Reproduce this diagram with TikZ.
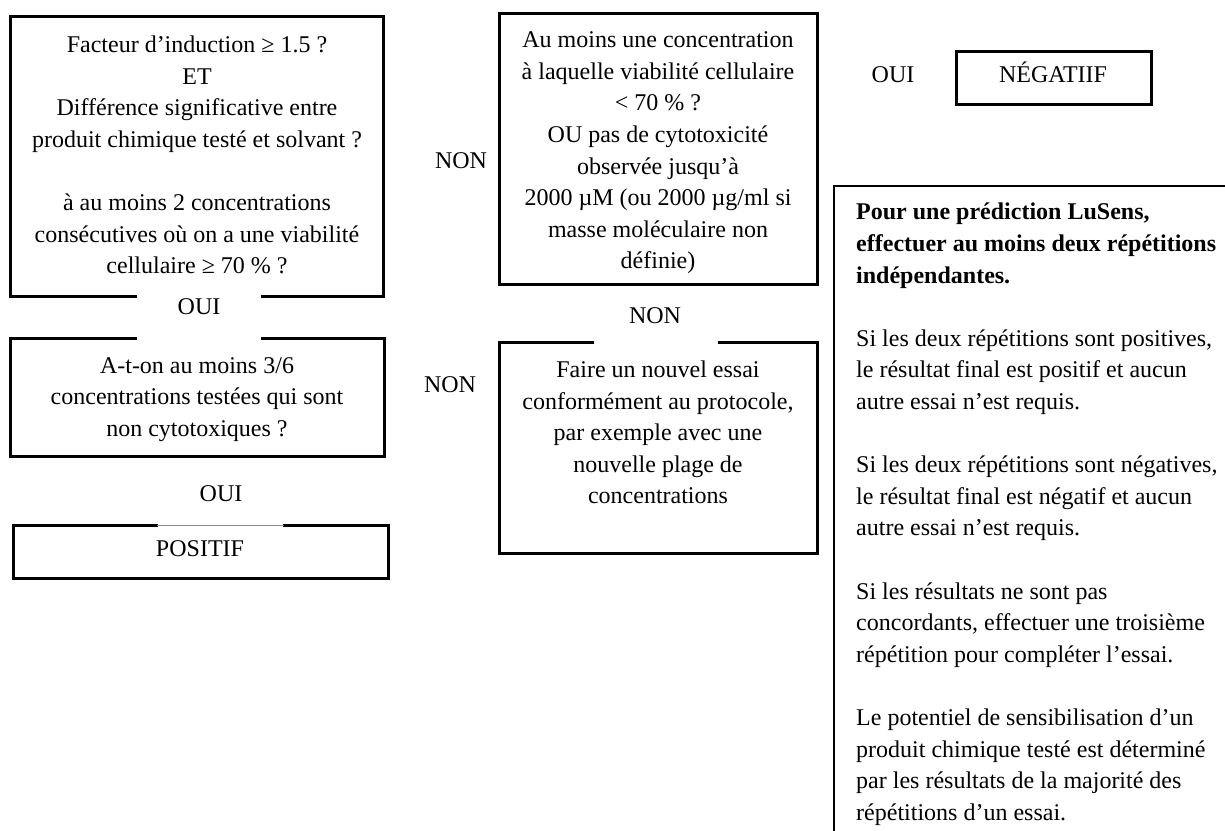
\documentclass[tikz,border=0pt]{standalone}
\usepackage{fontspec}
\setmainfont{Liberation Serif}
\usetikzlibrary{calc}
\begin{document}
\begin{tikzpicture}[x=1pt,y=-1pt,
  txt/.style={font=\fontsize{24}{31.6}\selectfont, align=center, inner sep=0pt},
  lbl/.style={font=\fontsize{24}{31.6}\selectfont, inner sep=0pt},
  boxshape/.style={rectangle, draw=none, inner sep=0pt},
  boxline/.style={line width=2.7pt, line join=miter, line cap=rect},
  thinline/.style={line width=0.8pt, draw=black!45},
  panel/.style={font=\fontsize{24}{31.6}\selectfont, align=left, inner sep=0pt, anchor=north west}]
\useasboundingbox (0,0) rectangle (1225,830);

% ---- box shapes ----
\node[boxshape, minimum width=372pt, minimum height=279pt] (q1) at (197,156.5) {};
\node[boxshape, minimum width=373pt, minimum height=117pt] (q2) at (197.5,397.5) {};
\node[boxshape, minimum width=374pt, minimum height=52pt] (pos) at (201,552) {};
\node[boxshape, minimum width=317pt, minimum height=270pt] (q3) at (658.5,149) {};
\node[boxshape, minimum width=317pt, minimum height=210pt] (q4) at (658.5,448) {};
\node[boxshape, minimum width=194pt, minimum height=52pt] (neg) at (1054,78) {};

% box 1 : open at the bottom for OUI
\draw[boxline] ($(q1.south)+(-61,0)$) -- (q1.south west) -- (q1.north west) -- (q1.north east) -- (q1.south east) -- ($(q1.south)+(65,0)$);
% box 2 : open at the top
\draw[boxline] ($(q2.north)+(-61.5,0)$) -- (q2.north west) -- (q2.south west) -- (q2.south east) -- (q2.north east) -- ($(q2.north)+(64.5,0)$);
% POSITIF box
\draw[boxline] ($(pos.north)+(-44,0)$) -- (pos.north west) -- (pos.south west) -- (pos.south east) -- (pos.north east) -- ($(pos.north)+(83,0)$);
\draw[thinline] ($(pos.north)+(-44,0)$) -- ($(pos.north)+(83,0)$);
% box 3
\draw[boxline] (q3.north west) rectangle (q3.south east);
% box 4 : open at the top
\draw[boxline] ($(q4.north)+(-65.5,0)$) -- (q4.north west) -- (q4.south west) -- (q4.south east) -- (q4.north east) -- ($(q4.north)+(60.5,0)$);
% NEGATIF box
\draw[boxline] (neg.north west) rectangle (neg.south east);
% right panel
\coordinate (pc) at (834,186);
\draw[boxline] (pc |- 0,834) -- (pc) -- (1230,186);

% ---- texts ----
\node[txt] (t1) at (197,155) {Facteur d’induction ≥ 1.5 ?\\ET\\Différence significative entre\\produit chimique testé et solvant ?\\[31.6pt]à au moins 2 concentrations\\consécutives où on a une viabilité\\cellulaire ≥ 70 \% ?};
\node[txt] (t2) at (197,399.5) {A-t-on au moins 3/6\\concentrations testées qui sont\\non cytotoxiques ?};
\node[txt] (t3) at (658,153) {Au moins une concentration\\à laquelle viabilité cellulaire\\< 70 \% ?\\OU pas de cytotoxicité\\observée jusqu’à\\2000 µM (ou 2000 µg/ml si\\masse moléculaire non\\définie)};
\node[txt] (t4) at (658,432.5) {Faire un nouvel essai\\conformément au protocole,\\par exemple avec une\\nouvelle plage de\\concentrations};
\node[lbl] (tpos) at (200,549) {POSITIF};
\node[lbl] (tneg) at (1053,72) {NÉGATIIF};

\node[lbl] (oui1) at (199,307) {OUI};
\node[lbl] (oui2) at (221,494) {OUI};
\node[lbl] (non1) at (461,161) {NON};
\node[lbl] (non2) at (655,316) {NON};
\node[lbl] (non3) at (450,385) {NON};
\node[lbl] (oui3) at (893,75) {OUI};

\node[panel] (pt) at (856,203) {\textbf{Pour une prédiction LuSens,}\\\textbf{effectuer au moins deux répétitions}\\\textbf{indépendantes.}\\[31.6pt]Si les deux répétitions sont positives,\\le résultat final est positif et aucun\\autre essai n’est requis.\\[31.6pt]Si les deux répétitions sont négatives,\\le résultat final est négatif et aucun\\autre essai n’est requis.\\[31.6pt]Si les résultats ne sont pas\\concordants, effectuer une troisième\\répétition pour compléter l’essai.\\[31.6pt]Le potentiel de sensibilisation d’un\\produit chimique testé est déterminé\\par les résultats de la majorité des\\répétitions d’un essai.};
\end{tikzpicture}
\end{document}
